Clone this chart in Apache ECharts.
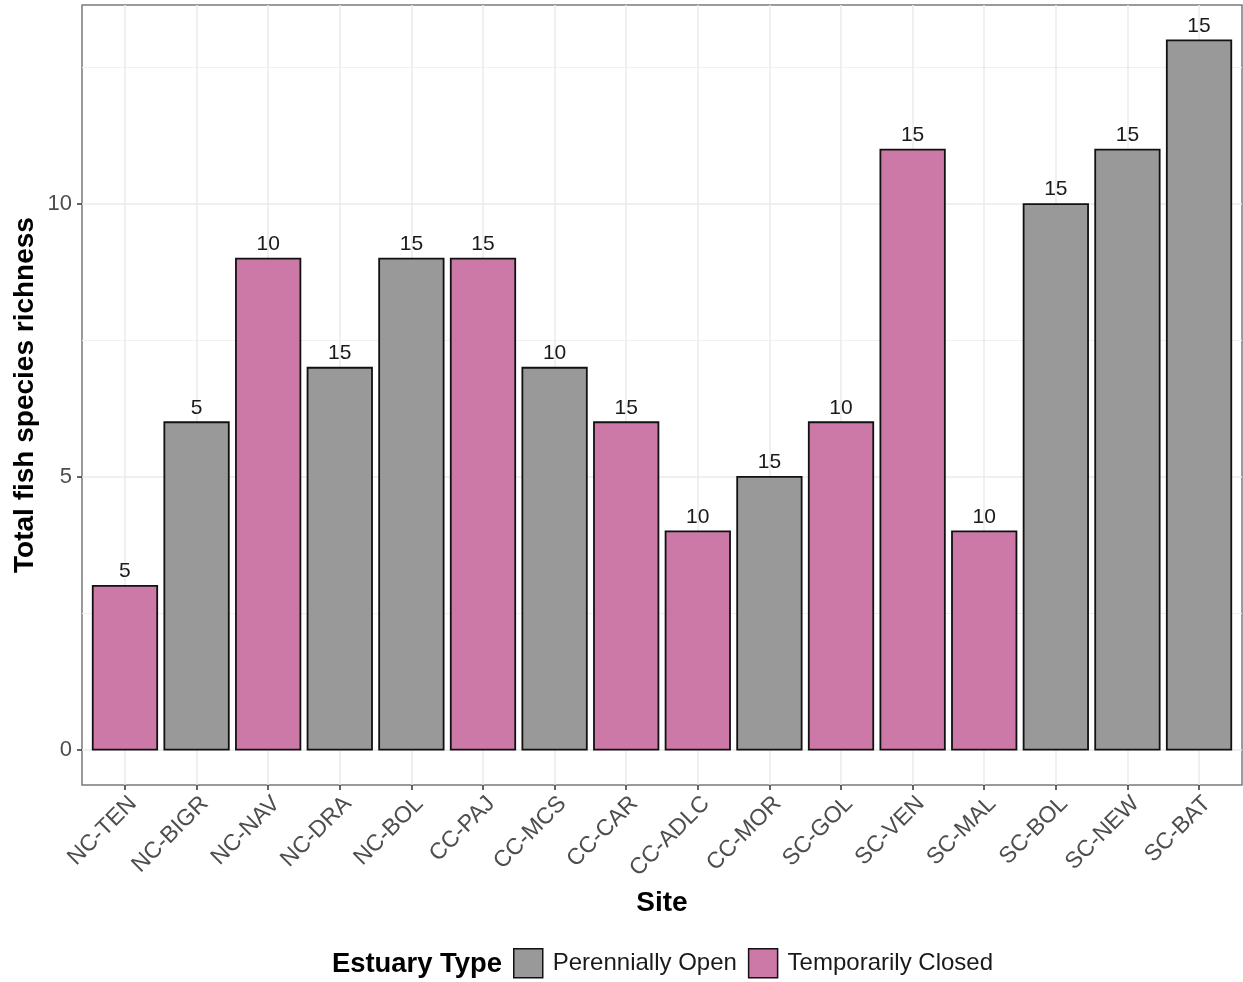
<!DOCTYPE html>
<html>
<head>
<meta charset="utf-8">
<script src="https://cdn.jsdelivr.net/npm/echarts@6/dist/echarts.min.js"></script>
<style>
  html, body { margin: 0; padding: 0; background: #ffffff; }
  #chart { width: 1243px; height: 982px; }
</style>
</head>
<body>
<div id="chart"></div>
<script>
// Sites in plotting order (north to south)
const sites = ['NC-TEN', 'NC-BIGR', 'NC-NAV', 'NC-DRA', 'NC-BOL', 'CC-PAJ', 'CC-MCS', 'CC-CAR',
               'CC-ADLC', 'CC-MOR', 'SC-GOL', 'SC-VEN', 'SC-MAL', 'SC-BOL', 'SC-NEW', 'SC-BAT'];
// Total fish species richness per site
const richness = [3, 6, 9, 7, 9, 9, 7, 6, 4, 5, 6, 11, 4, 10, 11, 13];
// Number of samples per site (printed above each bar)
const sampleCounts = [5, 5, 10, 15, 15, 15, 10, 15, 10, 15, 10, 15, 10, 15, 15, 15];
// Estuary type per site
const estuaryType = ['Temporarily Closed', 'Perennially Open', 'Temporarily Closed', 'Perennially Open',
                     'Perennially Open', 'Temporarily Closed', 'Perennially Open', 'Temporarily Closed',
                     'Temporarily Closed', 'Perennially Open', 'Temporarily Closed', 'Temporarily Closed',
                     'Temporarily Closed', 'Perennially Open', 'Perennially Open', 'Perennially Open'];
const typeNames = ['Perennially Open', 'Temporarily Closed'];
const typeColors = ['#999999', '#CC79A7'];
// Axis ticks
const yTicks = [0, 5, 10];
const yMinorTicks = [2.5, 7.5, 12.5];

const FONT = '"Liberation Sans", Arial, Helvetica, sans-serif';
const siteIdx = sites.map((_, i) => i);

function renderBar(params, api) {
  const x = api.value(0);
  const y = api.value(1);
  const top = api.coord([x, y]);
  const base = api.coord([x, 0]);
  const w = api.size([0.9, 0])[0];
  return {
    type: 'group',
    children: [
      {
        type: 'rect',
        shape: { x: top[0] - w / 2, y: top[1], width: w, height: base[1] - top[1] },
        style: { fill: api.visual('color'), stroke: '#111111', lineWidth: 1.8 }
      },
      {
        type: 'text',
        x: top[0],
        y: top[1] - 4,
        style: {
          text: String(api.value(2)),
          fill: '#1a1a1a',
          fontSize: 21,
          fontFamily: FONT,
          align: 'center',
          verticalAlign: 'bottom'
        }
      }
    ]
  };
}

const series = typeNames.map((t, k) => ({
  name: t,
  type: 'custom',
  renderItem: renderBar,
  encode: { x: 0, y: 1 },
  itemStyle: { color: typeColors[k], borderColor: '#111111', borderWidth: 1.5 },
  data: sites
    .map((s, i) => [i, richness[i], sampleCounts[i]])
    .filter((d, i) => estuaryType[i] === t),
  silent: true
}));

const chart = echarts.init(document.getElementById('chart'), null, { renderer: 'canvas' });
chart.setOption({
  animation: false,
  backgroundColor: '#ffffff',
  textStyle: { fontFamily: FONT },
  title: {
    text: 'Estuary Type',
    left: 332,
    top: 951,
    padding: 0,
    textStyle: { fontSize: 27.4, fontWeight: 'bold', color: '#000000', fontFamily: FONT }
  },
  legend: {
    data: typeNames,
    left: 513,
    top: 948,
    padding: 0,
    itemWidth: 29,
    itemHeight: 29,
    itemGap: 11,
    icon: 'rect',
    selectedMode: false,
    itemStyle: { borderColor: '#111111', borderWidth: 1.5 },
    textStyle: { fontSize: 24, color: '#1a1a1a', fontFamily: FONT, padding: [0, 0, 0, 5] }
  },
  grid: {
    left: 82,
    right: 1,
    top: 5,
    bottom: 197,
    show: true,
    borderColor: '#7a7a7a',
    borderWidth: 1.5,
    backgroundColor: 'transparent'
  },
  xAxis: {
    type: 'value',
    min: -0.6,
    max: sites.length - 1 + 0.6,
    name: 'Site',
    nameLocation: 'middle',
    nameGap: 104,
    nameMoveOverlap: false,
    nameTextStyle: { fontSize: 28, fontWeight: 'bold', color: '#000000', fontFamily: FONT },
    axisLine: { show: false, onZero: false },
    axisTick: { show: true, customValues: siteIdx, length: 5, lineStyle: { color: '#333333', width: 1.5 } },
    axisLabel: {
      customValues: siteIdx,
      formatter: v => sites[Math.round(v)],
      rotate: 45,
      margin: 7,
      align: 'right',
      verticalAlign: 'top',
      fontSize: 23,
      color: '#4d4d4d',
      fontFamily: FONT
    },
    splitLine: { show: true, lineStyle: { color: '#ebebeb', width: 1.5 } }
  },
  yAxis: [
    {
      type: 'value',
      min: -0.65,
      max: 13.65,
      name: 'Total fish species richness',
      nameLocation: 'middle',
      nameGap: 43,
      nameMoveOverlap: false,
      nameTextStyle: { fontSize: 28, fontWeight: 'bold', color: '#000000', fontFamily: FONT },
      axisLine: { show: false, onZero: false },
      axisTick: { show: true, customValues: yTicks, length: 5, lineStyle: { color: '#333333', width: 1.5 } },
      axisLabel: { customValues: yTicks, margin: 10, fontSize: 22, color: '#4d4d4d', fontFamily: FONT },
      splitLine: { show: true, lineStyle: { color: '#ebebeb', width: 1.5 } }
    },
    {
      type: 'value',
      min: -0.65,
      max: 13.65,
      position: 'left',
      axisLine: { show: false, onZero: false },
      axisTick: { show: false, customValues: yMinorTicks },
      axisLabel: { show: false, customValues: yMinorTicks },
      splitLine: { show: true, lineStyle: { color: '#f0f0f0', width: 1 } }
    }
  ],
  series: series
});
</script>
</body>
</html>
